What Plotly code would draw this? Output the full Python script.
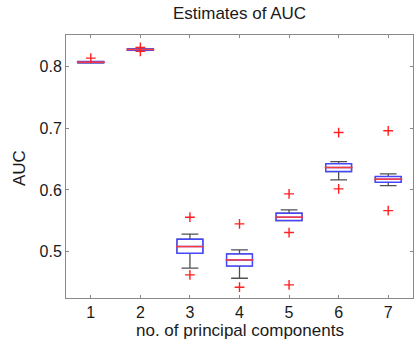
import plotly.graph_objects as go

# ---- data ----
categories = [1, 2, 3, 4, 5, 6, 7]
q1_vals = [0.806, 0.8265, 0.4976, 0.4769, 0.5504, 0.6298, 0.6126]
median_vals = [0.807, 0.8275, 0.5083, 0.4867, 0.5559, 0.6363, 0.6175]
q3_vals = [0.808, 0.8285, 0.5203, 0.4964, 0.5624, 0.6423, 0.6217]
lower_whisker = [0.806, 0.8265, 0.4733, 0.4570, 0.5504, 0.6164, 0.6071]
upper_whisker = [0.808, 0.8285, 0.5284, 0.5029, 0.5677, 0.6460, 0.6261]
outliers = {
    1: [0.8135],
    2: [0.831, 0.8245],
    3: [0.5559, 0.4624],
    4: [0.5451, 0.4425],
    5: [0.5937, 0.5310, 0.4462],
    6: [0.6930, 0.6018],
    7: [0.6958, 0.5666],
}
title_text = "Estimates of AUC"
x_title = "no. of principal components"
y_title = "AUC"

FONT = "Liberation Sans, Arial, sans-serif"
TXT = "#1a1a1a"
BOX_W = 0.52

# plot area in pixels
L, R, T, B = 66, 413, 35, 298
W, H = 420, 341

fig = go.Figure()

# whiskers (dark) – box part hidden under the blue box
fig.add_trace(go.Box(
    x=categories, q1=q1_vals, median=median_vals, q3=q3_vals,
    lowerfence=lower_whisker, upperfence=upper_whisker,
    width=BOX_W, whiskerwidth=0.65,
    line=dict(color="#505050", width=1.3), fillcolor="white",
    boxpoints=False, showlegend=False, hoverinfo="skip",
))
# blue box
fig.add_trace(go.Box(
    x=categories, q1=q1_vals, median=median_vals, q3=q3_vals,
    lowerfence=q1_vals, upperfence=q3_vals,
    width=BOX_W, whiskerwidth=0,
    line=dict(color="#4646ff", width=1.5), fillcolor="white",
    boxpoints=False, showlegend=False, hoverinfo="skip",
))
# red median
fig.add_trace(go.Scatter(
    x=categories, y=median_vals, mode="markers",
    marker=dict(symbol="line-ew", size=20, color="#ff3c3c",
                line=dict(color="#ff3c3c", width=1.5)),
    showlegend=False, hoverinfo="skip",
))
# outliers
ox, oy = [], []
for c in categories:
    for v in outliers[c]:
        ox.append(c)
        oy.append(v)
fig.add_trace(go.Scatter(
    x=ox, y=oy, mode="markers",
    marker=dict(symbol="cross-thin-open", size=7, color="#ff2020",
                line=dict(color="#ff2020", width=1.4)),
    showlegend=False, hoverinfo="skip",
))

axis_common = dict(
    showline=True, linecolor="#8a8a8a", linewidth=1, mirror="ticks",
    ticks="inside", ticklen=3, tickcolor="#8a8a8a", tickwidth=1,
    showgrid=False, zeroline=False,
    tickfont=dict(family=FONT, size=16, color=TXT),
)

fig.update_layout(
    width=W, height=H,
    margin=dict(l=L, r=W - R, t=T, b=H - B),
    paper_bgcolor="white", plot_bgcolor="white",
    boxmode="overlay",
    title=dict(text=title_text, x=(L + R) / 2 / W, xanchor="center",
               y=1 - 13 / H, yanchor="middle",
               font=dict(family=FONT, size=17, color=TXT)),
    xaxis=dict(range=[0.5, 7.5], tickvals=categories,
               ticktext=[str(c) for c in categories], **axis_common),
    yaxis=dict(range=[0.425, 0.851], tickvals=[0.5, 0.6, 0.7, 0.8],
               ticktext=["0.5", "0.6", "0.7", "0.8"], **axis_common),
    annotations=[
        dict(text=x_title, xref="paper", yref="paper",
             x=0.5, y=(B - 330) / (B - T), xanchor="center", yanchor="middle",
             showarrow=False, font=dict(family=FONT, size=17, color=TXT)),
        dict(text=y_title, xref="paper", yref="paper", textangle=-90,
             x=(19 - L) / (R - L), y=(B - 168) / (B - T),
             xanchor="center", yanchor="middle",
             showarrow=False, font=dict(family=FONT, size=17, color=TXT)),
    ],
)

fig.write_html(
    "out.html",
    config={"displayModeBar": False, "staticPlot": True},
    post_script="document.body.style.margin='0';"
                "document.documentElement.style.overflow='hidden';",
)
